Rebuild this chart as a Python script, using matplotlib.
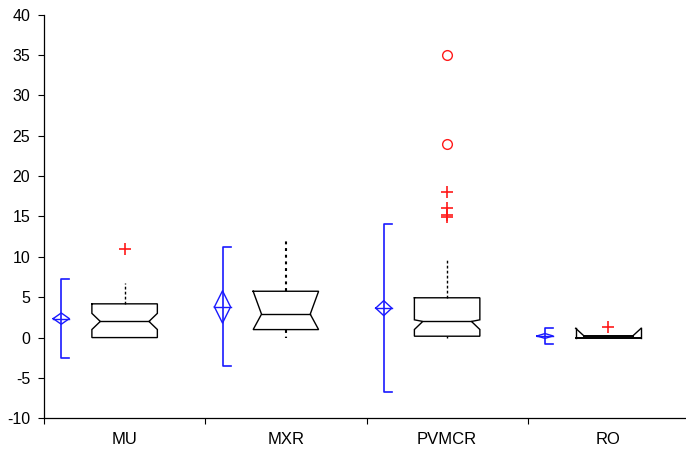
import numpy as np
import matplotlib
matplotlib.use("Agg")
import matplotlib.pyplot as plt

plt.rcParams['font.family'] = ['Liberation Sans', 'DejaVu Sans']
plt.rcParams['axes.unicode_minus'] = False

# box statistics
categories = ['MU', 'MXR', 'PVMCR', 'RO']
q1 = [0.0, 0.99, 0.17, 0.0]
median = [2.0, 2.9, 2.0, 0.2]
q3 = [4.18, 5.74, 4.93, 1.15]
notch_lo = [1.0, 0.99, 1.0, 0.0]
notch_hi = [3.0, 5.74, 2.2, 1.15]
whisk_lo = [0.0, 0.0, 0.0, 0.0]
whisk_hi = [6.7, 12.0, 9.7, 1.15]
outl_plus = [[11.0], [], [18.0, 16.0, 15.2, 14.9], [1.28]]
outl_circle = [[], [], [35.0, 24.0], []]

# mean, CI of mean (diamond) and mean +/- sd (bracket)
mean = [2.35, 3.8, 3.65, 0.2]
mean_ci = [0.7, 2.0, 0.93, 0.3]
sd_lo = [-2.57, -3.56, -6.8, -0.78]
sd_hi = [7.28, 11.2, 14.06, 1.2]

# per box styles
whisk_style = [(0, (2, 1.6)), (0, (1.4, 1.8)), (0, (2, 1.6)), (0, (2, 1.6))]
whisk_lw = [1.0, 1.5, 1.0, 1.0]
shape = ['notch', 'notch', 'notch', 'tri']

fig = plt.figure(figsize=(6.86, 4.51), dpi=100)
ax = fig.add_axes([44 / 686, 32.7 / 451, 645 / 686, 403.6 / 451])

half_w = 0.203
inset = 0.052
blue = '#1a1aff'
red = '#ff1a1a'

for i, cat in enumerate(categories):
    c = i + 0.5
    L, R = c - half_w, c + half_w
    if shape[i] == 'notch':
        xs = [L, L, L, L + inset, L, L, R, R, R - inset, R, R, L]
        ys = [q3[i], q3[i], notch_hi[i], median[i], notch_lo[i], q1[i],
              q1[i], notch_lo[i], median[i], notch_hi[i], q3[i], q3[i]]
        ax.plot(xs, ys, color='black', lw=1.0, solid_joinstyle='miter')
        ax.plot([L + inset, R - inset], [median[i], median[i]], color='black', lw=1.0)
    else:
        # sides kept, notch drawn as triangles inside the box
        for side, sgn in ((L, 1), (R, -1)):
            ax.plot([side, side], [q3[i], q1[i]], color='black', lw=1.0)
            ax.plot([side, side + sgn * inset], [notch_hi[i], median[i]], color='black', lw=1.0)
        ax.plot([L, R], [q1[i], q1[i]], color='black', lw=1.4)
        ax.plot([L + inset, R - inset], [median[i], median[i]], color='black', lw=1.4)
    # whiskers
    if whisk_hi[i] > q3[i]:
        ax.plot([c, c], [q3[i], whisk_hi[i]], color='black', lw=whisk_lw[i],
                linestyle=whisk_style[i])
    if whisk_lo[i] < q1[i]:
        ax.plot([c, c], [q1[i], whisk_lo[i]], color='black', lw=whisk_lw[i],
                linestyle=whisk_style[i])
    # outliers
    if outl_plus[i]:
        ax.plot([c] * len(outl_plus[i]), outl_plus[i], '+', color=red,
                markersize=8, mew=1.2)
    if outl_circle[i]:
        ax.plot([c] * len(outl_circle[i]), outl_circle[i], 'o', mfc='none',
                mec=red, markersize=7, mew=1.0)

    # mean +/- sd bracket with diamond
    bx = i + 0.107
    cap = 0.05
    ax.plot([bx + cap, bx, bx, bx + cap], [sd_lo[i], sd_lo[i], sd_hi[i], sd_hi[i]],
            color=blue, lw=1.2)
    dw = 0.05
    ax.plot([bx - dw, bx, bx + dw, bx, bx - dw],
            [mean[i], mean[i] + mean_ci[i], mean[i], mean[i] - mean_ci[i], mean[i]],
            color=blue, lw=1.0)
    ax.plot([bx - dw, bx + dw], [mean[i], mean[i]], color=blue, lw=1.0)

ax.set_xlim(0, 4)
ax.set_ylim(-10, 40)
ax.set_yticks(np.arange(-10, 41, 5))
ax.set_xticks([0, 1, 2, 3])
ax.set_xticklabels([])
ax.set_xticks([0.5, 1.5, 2.5, 3.5], minor=True)
ax.set_xticklabels(categories, minor=True)
ax.tick_params(axis='x', which='major', length=4, width=0.8, direction='out')
ax.tick_params(axis='x', which='minor', length=0, pad=10, labelsize=12)
ax.tick_params(axis='y', length=4, width=0.8, pad=6, labelsize=11.5)

for s in ['top', 'right']:
    ax.spines[s].set_visible(False)
for s in ['left', 'bottom']:
    ax.spines[s].set_linewidth(0.9)

fig.savefig('out.png', dpi=100)
